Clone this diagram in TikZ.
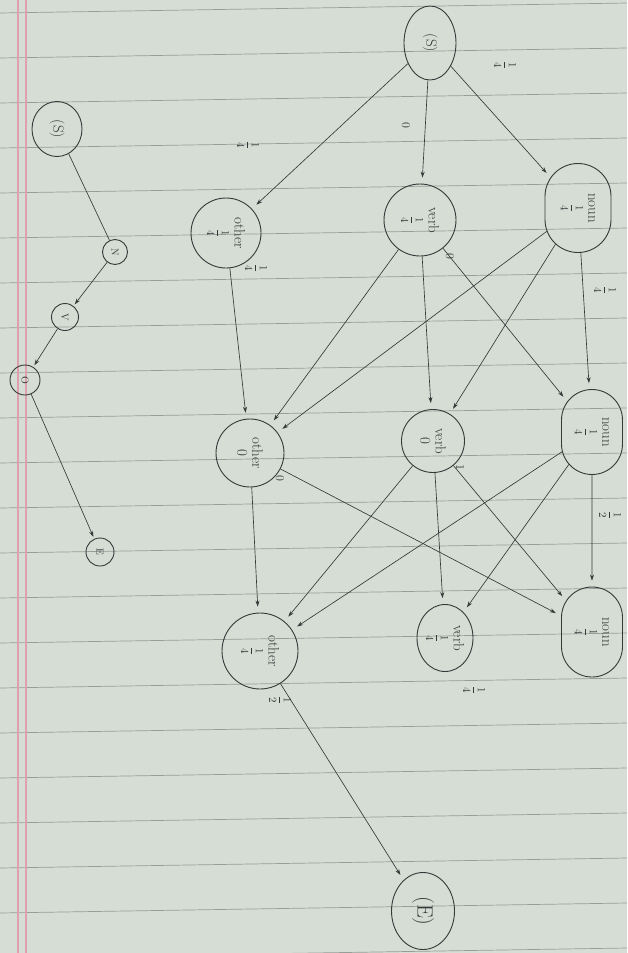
\documentclass[tikz,border=0pt]{standalone}
\usetikzlibrary{arrows.meta,shapes.geometric,shapes.misc}
\definecolor{paper}{RGB}{214,221,213}
\definecolor{rule}{RGB}{150,158,152}
\definecolor{margin}{RGB}{222,160,175}
\definecolor{inkc}{RGB}{55,57,57}
\newcommand{\qf}[2]{{\fontsize{11}{11}\selectfont$\displaystyle\frac{#1}{#2}$}}
\begin{document}
\begin{tikzpicture}[x=1pt,y=-1pt,
  ink/.style={draw=inkc, line width=0.9pt},
  stc/.style={ink, circle, inner sep=0pt, rotate=-90, align=center, text=inkc, font=\fontsize{15}{15}\selectfont},
  ste/.style={ink, ellipse, inner sep=0pt, rotate=-90, align=center, text=inkc, font=\fontsize{15}{15}\selectfont},
  str/.style={ink, rounded rectangle, inner sep=0pt, rotate=-90, align=center, text=inkc, font=\fontsize{15}{15}\selectfont},
  sml/.style={ink, circle, inner sep=0pt, rotate=-90, text=inkc, font=\fontsize{10}{10}\selectfont},
  edge/.style={ink, line width=0.65pt, -{Stealth[length=6pt,width=4pt]}, shorten >=6pt},
  lbl/.style={rotate=-90, text=inkc, inner sep=1pt, font=\fontsize{12}{12}\selectfont}]
\useasboundingbox (0,0) rectangle (627,953);
% paper
\fill[paper] (0,0) rectangle (627,953);
\foreach \k in {0,...,21} {
  \draw[rule, line width=0.7pt] (0,{13+45*\k}) -- (627,{3+45*\k});
}
\draw[margin, line width=1.2pt] (18,0) -- (18,953);
\draw[margin, line width=1.2pt] (26,0) -- (26,953);
% main graph nodes
\node[ste, minimum width=74, minimum height=52] (S) at (430,43) {(S)};
\node[str, minimum width=89, minimum height=66] (n1) at (578,208) {noun\\[5pt]\qf14};
\node[stc, minimum size=72] (v1) at (420,220) {verb\\[5pt]\qf14};
\node[stc, minimum size=70] (o1) at (226,233) {other\\[5pt]\qf14};
\node[str, minimum width=85, minimum height=61] (n2) at (592,432) {noun\\[5pt]\qf14};
\node[stc, minimum size=63] (v2) at (433,441) {verb\\[0pt]0};
\node[stc, minimum size=68] (o2) at (250,453) {other\\[0pt]0};
\node[str, minimum width=90, minimum height=61] (n3) at (592,632) {noun\\[5pt]\qf14};
\node[ste, minimum width=67, minimum height=56] (v3) at (445,638) {verb\\[5pt]\qf14};
\node[stc, minimum size=76] (o3) at (260,651) {other\\[5pt]\qf14};
\node[ste, minimum width=77, minimum height=63, font=\fontsize{22}{22}\selectfont] (E) at (423,911) {(E)};
% edges
\draw[edge] (S) -- (n1);
\draw[edge] (S) -- (v1);
\draw[edge] (S) -- (o1);
\draw[edge] (n1) -- (n2);
\draw[edge] (n1) -- (v2);
\draw[edge] (n1) -- (o2);
\draw[edge] (v1) -- (n2);
\draw[edge] (v1) -- (v2);
\draw[edge] (v1) -- (o2);
\draw[edge] (o1) -- (o2);
\draw[edge] (n2) -- (n3);
\draw[edge] (n2) -- (v3);
\draw[edge] (n2) -- (o3);
\draw[edge] (v2) -- (n3);
\draw[edge] (v2) -- (v3);
\draw[edge] (v2) -- (o3);
\draw[edge] (o2) -- (n3);
\draw[edge] (o2) -- (o3);
\draw[edge] (o3) -- (E);
% labels
\node[lbl] (l1) at (505,65) {\qf14};
\node[lbl] (l2) at (406,125) {0};
\node[lbl] (l3) at (248,145) {\qf14};
\node[lbl] (l4) at (450,256) {0};
\node[lbl] (l5) at (256,268) {\qf14};
\node[lbl] (l6) at (605,290) {\qf14};
\node[lbl] (l7) at (280,478) {0};
\node[lbl] (l8) at (460,467) {1};
\node[lbl] (l9) at (610,515) {\qf12};
\node[lbl] (l10) at (474,690) {\qf14};
\node[lbl] (l11) at (280,700) {\qf12};
% small graph
\node[ste, minimum width=55, minimum height=50] (S2) at (57,129) {(S)};
\node[sml, minimum size=25] (N) at (115,252) {N};
\node[sml, minimum size=27] (V) at (65,317) {V};
\node[sml, minimum size=30] (O) at (25,380) {O};
\node[sml, minimum size=28] (E2) at (100,552) {E};
\draw[ink, line width=0.65pt] (S2) -- (N);
\draw[edge, shorten >=2pt] (N) -- (V);
\draw[edge, shorten >=2pt] (V) -- (O);
\draw[edge, shorten >=2pt] (O) -- (E2);
\end{tikzpicture}
\end{document}
